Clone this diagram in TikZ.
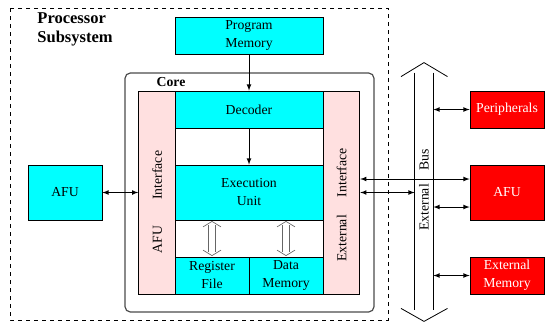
\documentclass[tikz,border=0pt]{standalone}
\usepackage{fontspec}
\setmainfont{Liberation Serif}
\usetikzlibrary{arrows,positioning,calc}
\definecolor{memcyan}{RGB}{0,255,255}
\definecolor{ifpink}{RGB}{255,224,224}
\definecolor{devred}{RGB}{255,0,0}
\begin{document}
\begin{tikzpicture}[x=0.75pt,y=-0.75pt,>=latex,align=center,line width=0.6pt,
  font=\fontsize{10.3}{13.5}\selectfont,
  unit/.style={draw,fill=memcyan,inner sep=0pt,minimum width=111pt,minimum height=27.75pt},
  small/.style={unit,minimum width=55.5pt},
  tall/.style={minimum height=41.25pt},
  iface/.style={draw,fill=ifpink,inner sep=0pt,minimum width=27.5pt,minimum height=152.25pt},
  dev/.style={small,fill=devred,text=white},
  dblarr/.style={draw=black!60,line width=0.5pt}]
 \useasboundingbox (0,0) rectangle (545,322);
 \draw[dashed] (10,8) rectangle (388,320);
 \node[anchor=north west,inner sep=0pt,align=left,font=\fontsize{12.4}{14.25}\selectfont\bfseries] (psub) at (37,12) {Processor\\Subsystem};
 \node[draw=black!70,line width=0.9pt,rounded corners=4pt,minimum width=186.75pt,minimum height=179.25pt] (core) at (249.5,192.5) {};
 \node[font=\fontsize{10.3}{13.5}\selectfont\bfseries] (corelbl) at (171,82) {Core};
 \node[unit] (pm) at (249,35.5) {Program\\Memory};
 \node[unit] (dec) at (249,109.5) {Decoder};
 \node[unit,tall] (exe) at (249,192.5) {Execution\\Unit};
 \node[small] (rf) at (212,275.5) {Register\\File};
 \node[small] (dm) at (286,275.5) {Data\\Memory};
 \node[iface] (afuif) at (157,192.5) {};
 \node[iface] (extif) at (341.5,192.5) {};
 \node[rotate=90] (afuiflbl) at (157,202) {AFU\hspace{19.5pt}Interface};
 \node[rotate=90] (extiflbl) at (341.5,205) {External\hspace{13.5pt}Interface};
 \node[small,tall] (afuL) at (65,192.5) {AFU};
 \node[dev] (per) at (507,109.5) {Peripherals};
 \node[dev,tall] (afuR) at (507,192.5) {AFU};
 \node[dev] (xmem) at (507,275.5) {External\\Memory};
 % bus
 \node[inner sep=0pt,minimum width=13.5pt,minimum height=177.75pt] (bus) at (424,191.5) {};
 \draw (bus.north west) -- (bus.south west) (bus.north east) -- (bus.south east);
 \draw ($(bus.north)+(-23,4)$) -- ($(bus.north)+(0,-10)$) -- ($(bus.north)+(23.5,4)$);
 \draw ($(bus.south)+(-23,-2)$) -- ($(bus.south)+(0,11)$) -- ($(bus.south)+(23.5,-2)$);
 \node[rotate=90] (buslbl) at (424,190) {External\hspace{10pt}Bus};
 % connections
 \draw[->] (pm) -- (dec);
 \draw[->] (dec) -- (exe);
 \foreach \b in {rf,dm}
  {\coordinate (up) at (\b.north |- exe.south);
   \draw[dblarr] ($(up)+(-3.5,5)$) -- ($(\b.north)+(-3.5,-5)$) ($(up)+(3.5,5)$) -- ($(\b.north)+(3.5,-5)$);
   \draw[dblarr] ($(up)+(-9,6.5)$) -- ($(up)+(0,1)$) -- ($(up)+(9,6.5)$)
     ($(\b.north)+(-9,-6.5)$) -- ($(\b.north)+(0,-1)$) -- ($(\b.north)+(9,-6.5)$);}
 \draw[<->] (afuL.east) -- (afuL.east -| afuif.west);
 \coordinate (xa) at ($(extif.east)+(0,-13.5)$);
 \draw[<->] (xa) -- (xa -| afuR.west);
 \draw[<->] (extif.east) -- (extif.east -| bus.west);
 \foreach \d/\dy in {per/0,afuR/14.5,xmem/0}
  {\coordinate (t) at ($(\d.west)+(0,\dy)$);
   \draw[<->] (t -| bus.east) -- (t);}
\end{tikzpicture}
\end{document}
